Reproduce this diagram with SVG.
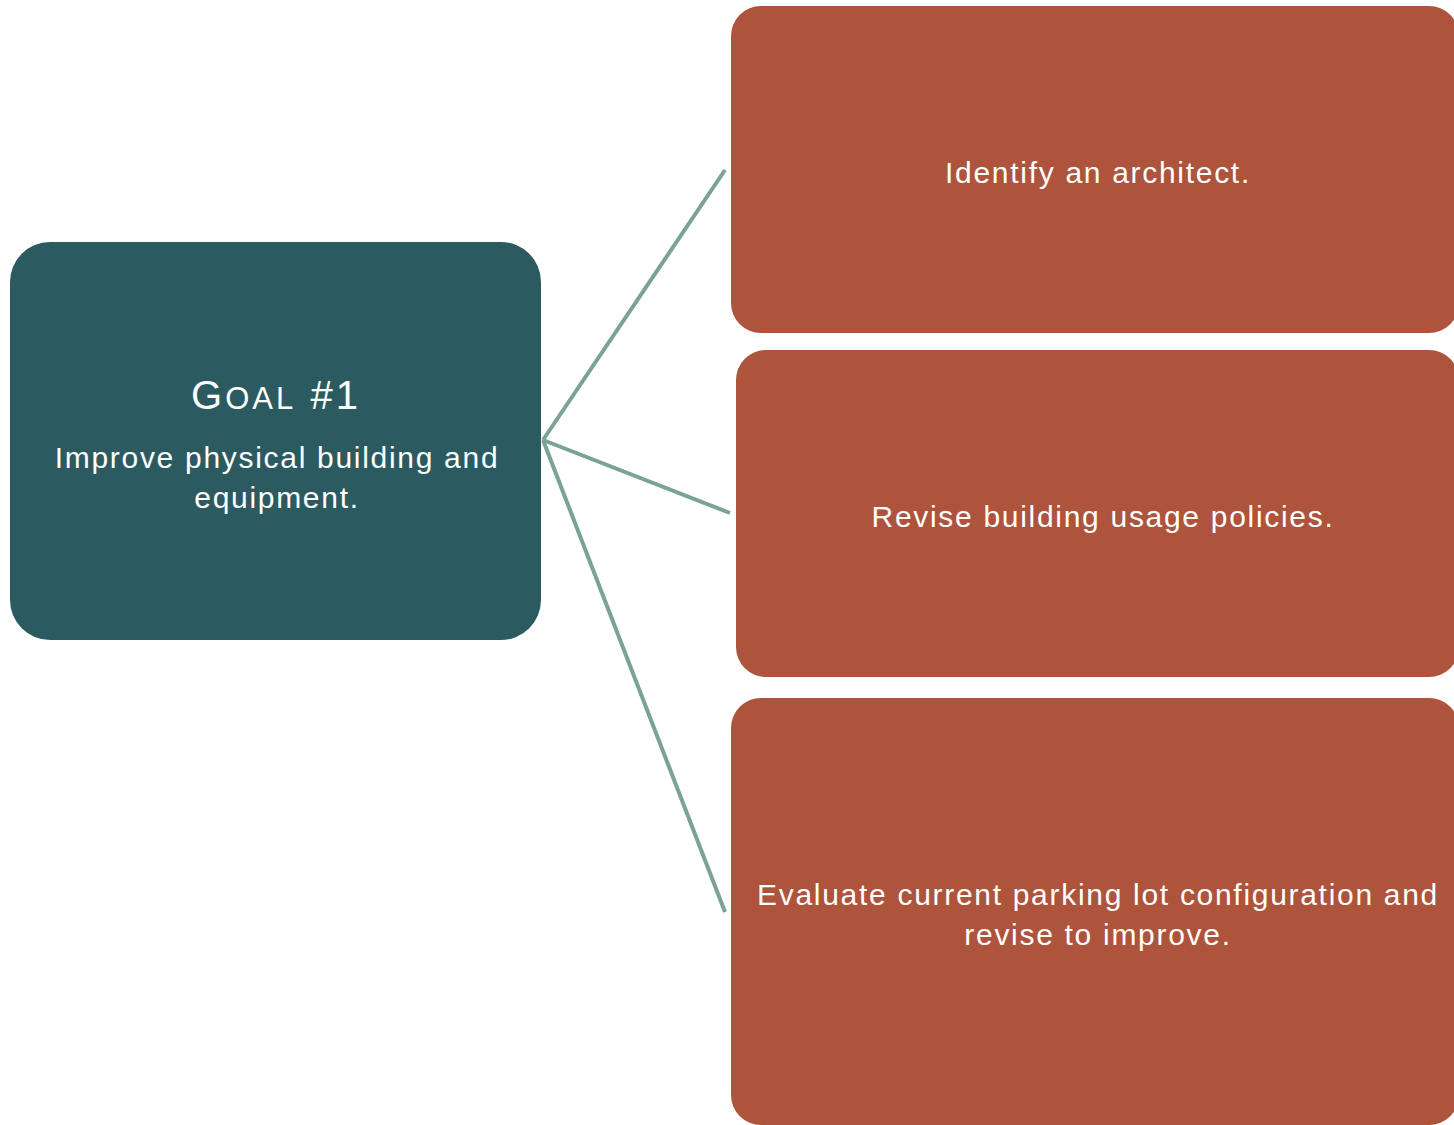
<svg xmlns="http://www.w3.org/2000/svg" width="1454" height="1125" viewBox="0 0 1454 1125">
<style>
.goal{fill:#2B5B61}
.task{fill:#AE533C}
.t{fill:#FFFFFF;font-family:"Liberation Sans",Arial,sans-serif;font-size:30px;letter-spacing:1.7px;text-anchor:middle}
.conn{stroke:#7BA393;stroke-width:4;fill:none}
</style>
<rect width="1454" height="1125" fill="#FFFFFF"/>
<g id="connectors">
<line class="conn" x1="543" y1="440" x2="725" y2="170"/>
<line class="conn" x1="543" y1="440" x2="730" y2="513"/>
<line class="conn" x1="543" y1="440" x2="725" y2="912"/>
</g>
<g id="goal">
<rect class="goal" x="10" y="242" width="531" height="398" rx="40"/>
<text class="t" x="276" y="409" style="font-size:40px;letter-spacing:3px">G<tspan style="font-size:31px">OAL</tspan> #1</text>
<text class="t" x="277" y="468">Improve physical building and</text>
<text class="t" x="277" y="508">equipment.</text>
</g>
<g id="task1">
<rect class="task" x="731" y="6" width="728" height="327" rx="30"/>
<text class="t" x="1098" y="183">Identify an architect.</text>
</g>
<g id="task2">
<rect class="task" x="736" y="350" width="723" height="327" rx="30"/>
<text class="t" x="1103" y="527">Revise building usage policies.</text>
</g>
<g id="task3">
<rect class="task" x="731" y="698" width="728" height="427" rx="30"/>
<text class="t" x="1098" y="905">Evaluate current parking lot configuration and</text>
<text class="t" x="1098" y="945">revise to improve.</text>
</g>
</svg>
